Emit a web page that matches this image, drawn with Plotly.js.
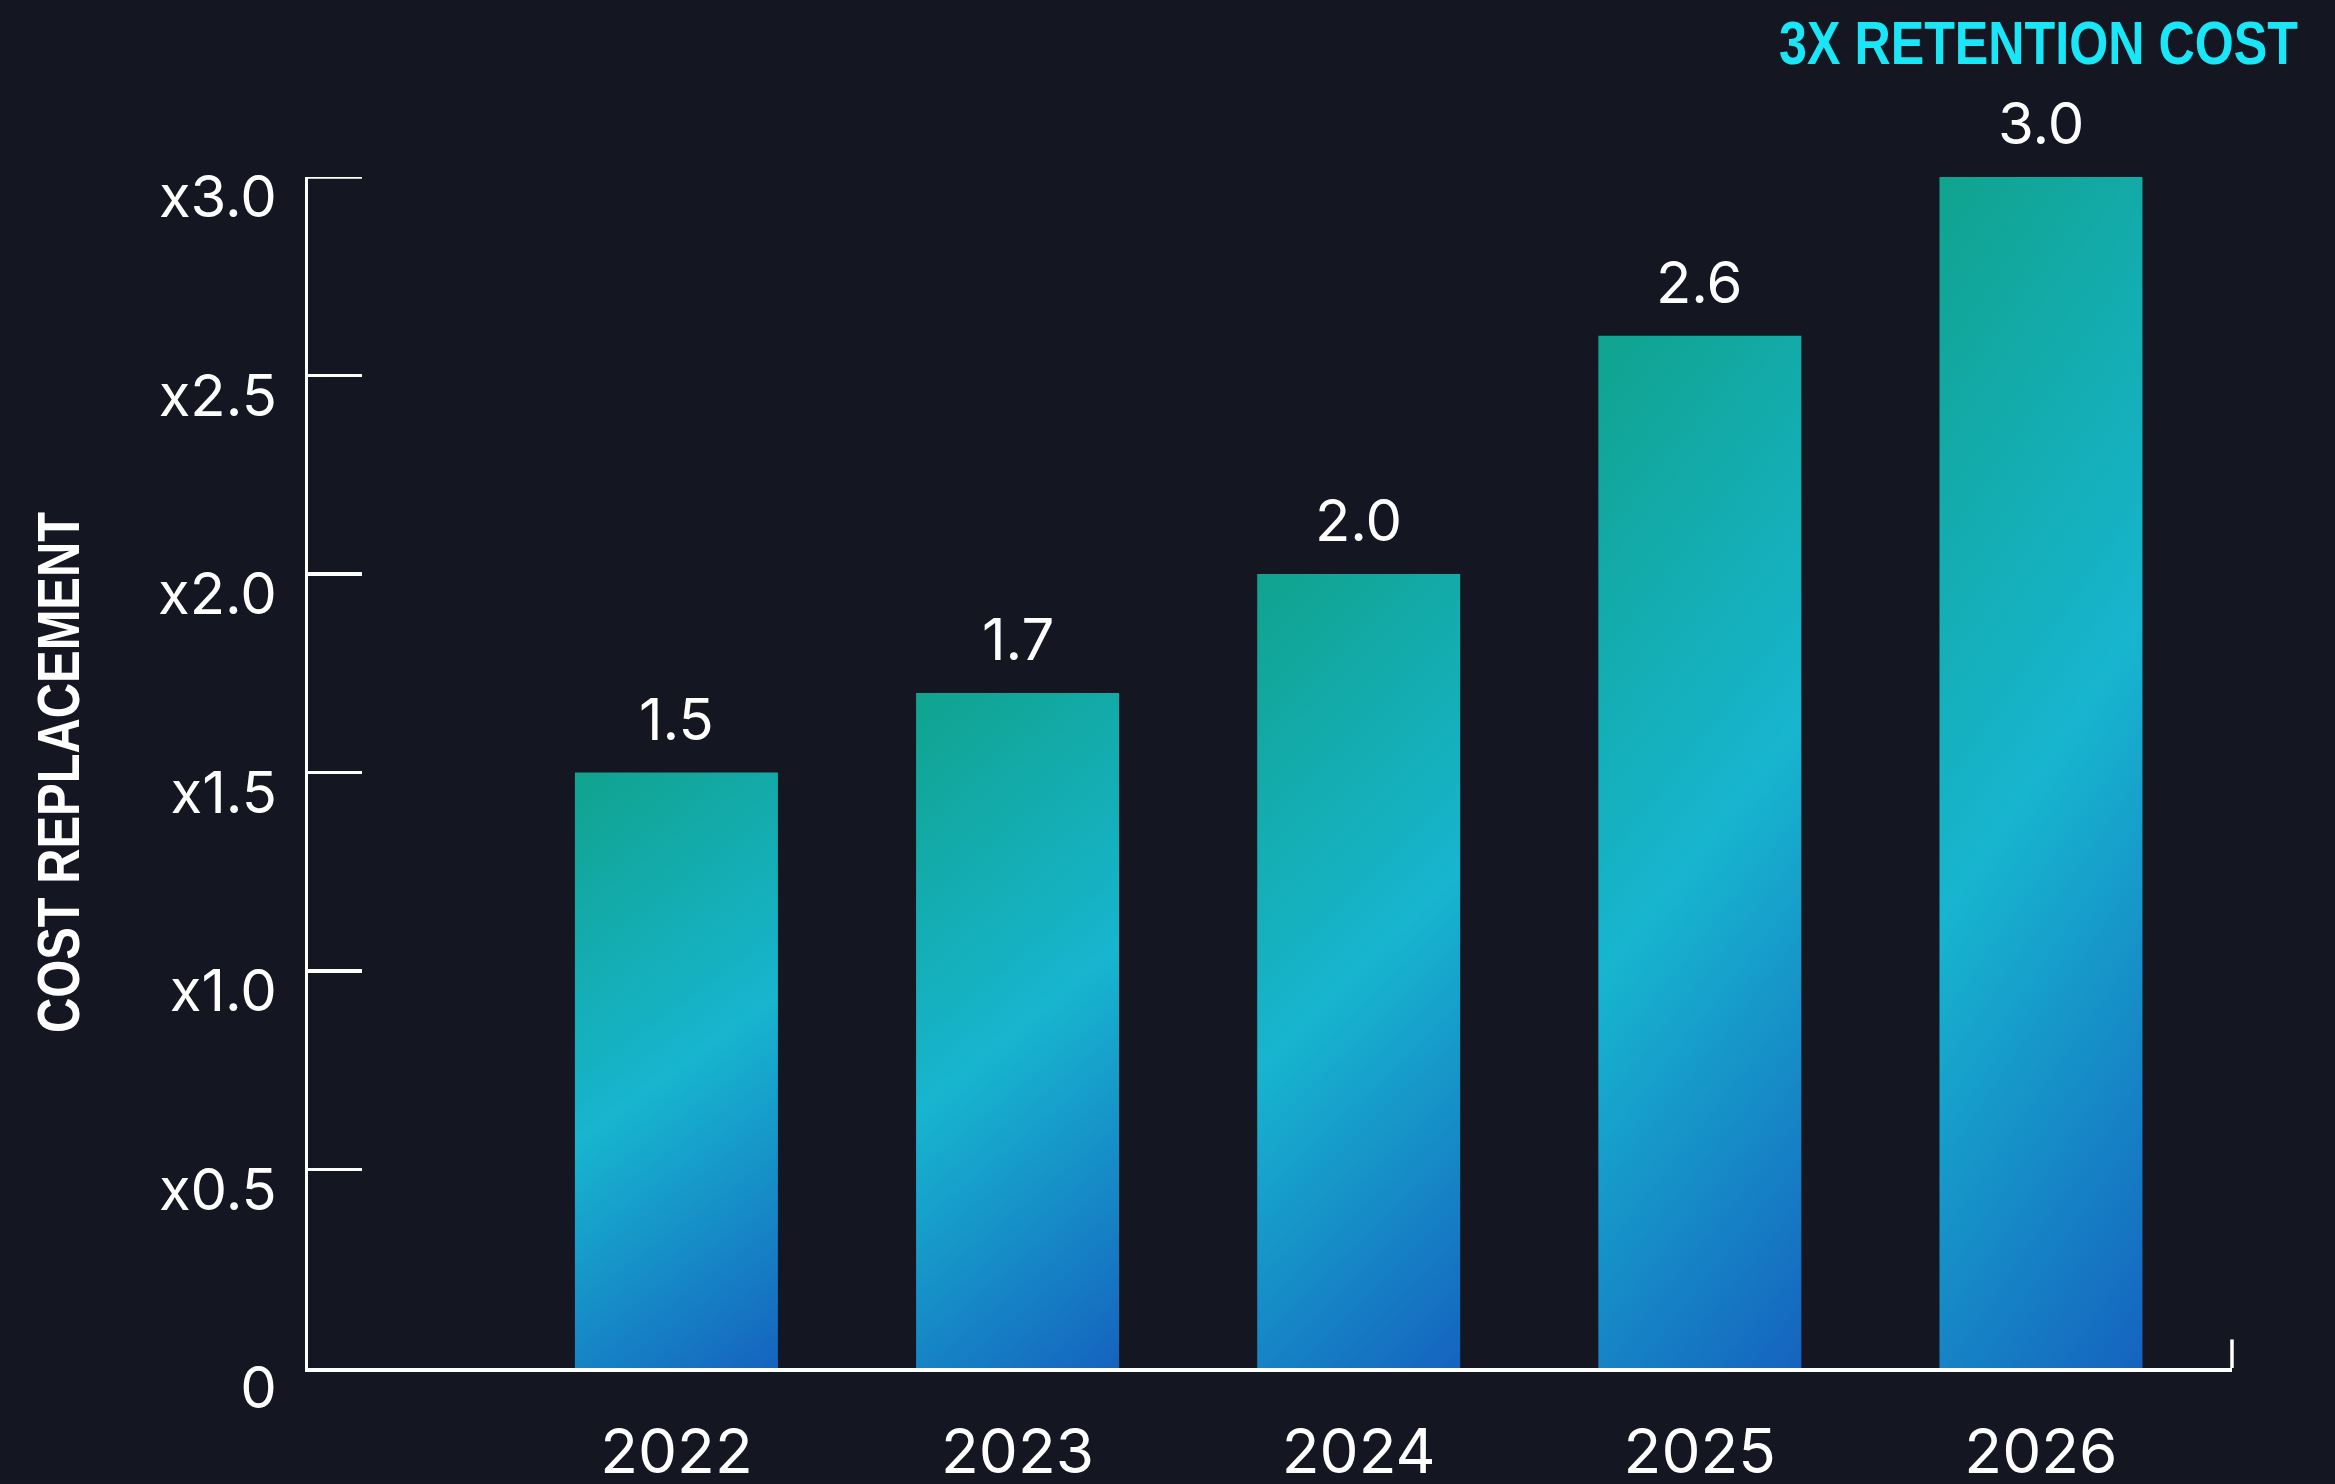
<!DOCTYPE html>
<html>
<head>
<meta charset="utf-8">
<script src="https://cdn.plot.ly/plotly-3.0.1.min.js"></script>
<style>
  html, body { margin: 0; padding: 0; background: #141621; }
  #chart { width: 2335px; height: 1484px; }
</style>
</head>
<body>
<div id="chart"></div>
<script>
// ---- data ----
const years = ['2022', '2023', '2024', '2025', '2026'];
const costMultiple = [1.5, 1.7, 2.0, 2.6, 3.0];
const yTickValues = [0, 0.5, 1.0, 1.5, 2.0, 2.5, 3.0];
const yTickLabels = ['0', 'x0.5', 'x1.0', 'x1.5', 'x2.0', 'x2.5', 'x3.0'];
const chartTitle = '3X RETENTION COST';
const yAxisTitle = 'COST REPLACEMENT';

const BG = '#141621';
const LW = 3.5;
const numFont = 'Inter, Roboto, "DejaVu Sans", sans-serif';
const condFont = '"Liberation Sans", Arial, sans-serif';

const trace = {
  type: 'bar',
  x: years,
  y: costMultiple,
  width: 0.595,
  marker: { color: '#17B5CF', line: { width: 0 } },
  hoverinfo: 'skip',
  cliponaxis: false
};

// value labels above each bar (x given as category index)
const annotations = costMultiple.map((v, i) => ({
  x: i, y: v, xref: 'x', yref: 'y',
  text: v.toFixed(1),
  showarrow: false, xanchor: 'center', yanchor: 'middle',
  yshift: 54,
  font: { family: numFont, size: 58, color: '#ffffff' }
}));

const yMax = Math.max(...yTickValues);

const layout = {
  width: 2335, height: 1484,
  paper_bgcolor: BG, plot_bgcolor: BG,
  margin: { l: 308, r: 103, t: 177, b: 116, pad: 0 },
  showlegend: false,
  title: {
    text: chartTitle,
    xref: 'container', yref: 'container',
    x: 2298 / 2335, xanchor: 'right',
    y: 1 - 43 / 1484, yanchor: 'middle',
    font: { family: condFont, size: 61, color: '#19E6F7', weight: 'bold' }
  },
  xaxis: {
    type: 'category',
    range: [-1.08, 4.56],
    showline: true, linecolor: '#ffffff', linewidth: LW,
    showgrid: false, zeroline: false,
    ticks: '',
    ticklabelstandoff: 27,
    tickfont: { family: numFont, size: 62, color: '#ffffff' },
    fixedrange: true
  },
  yaxis: {
    range: [0, yMax],
    tickmode: 'array',
    tickvals: yTickValues,
    ticktext: yTickLabels,
    showline: true, linecolor: '#ffffff', linewidth: LW,
    ticks: 'inside', ticklen: 54, tickwidth: LW, tickcolor: '#ffffff',
    showgrid: false, zeroline: false,
    ticklabelstandoff: 16,
    ticklabelshift: 20,
    tickfont: { family: numFont, size: 58, color: '#ffffff' },
    title: {
      text: yAxisTitle,
      standoff: 60,
      font: { family: condFont, size: 60, color: '#ffffff', weight: 'bold' }
    },
    automargin: false,
    fixedrange: true
  },
  shapes: [
    { // small upward tick closing the x axis on the right
      type: 'line', xref: 'paper', yref: 'paper',
      x0: 1, x1: 1, y0: 0, y1: 0.024,
      line: { color: '#ffffff', width: LW }
    },
    { // tick at the top of the y axis (end tick)
      type: 'line', xref: 'paper', yref: 'y', xsizemode: 'pixel', xanchor: 0,
      x0: 0, x1: 54, y0: yMax, y1: yMax,
      line: { color: '#ffffff', width: LW }
    }
  ],
  annotations: annotations
};

Plotly.newPlot('chart', [trace], layout, { displayModeBar: false, staticPlot: true }).then(gd => {
  const svg = gd.querySelector('.main-svg');
  const NS = 'http://www.w3.org/2000/svg';
  let defs = svg.querySelector('defs');
  if (!defs) { defs = document.createElementNS(NS, 'defs'); svg.insertBefore(defs, svg.firstChild); }
  const grad = document.createElementNS(NS, 'linearGradient');
  grad.setAttribute('id', 'barGrad');
  grad.setAttribute('gradientUnits', 'objectBoundingBox');
  grad.setAttribute('x1', '0'); grad.setAttribute('y1', '0');
  grad.setAttribute('x2', '0.294'); grad.setAttribute('y2', '1.176');
  [['0', '#10A38E'], ['0.5', '#17B5CF'], ['1', '#1563BF']].forEach(([o, c]) => {
    const s = document.createElementNS(NS, 'stop');
    s.setAttribute('offset', o); s.setAttribute('stop-color', c);
    grad.appendChild(s);
  });
  defs.appendChild(grad);
  gd.querySelectorAll('.bars .point path').forEach(p => { p.style.fill = 'url(#barGrad)'; });

  // condensed look for the two bold captions
  const fit = (sel, len) => {
    const t = gd.querySelector(sel);
    if (t) { t.setAttribute('textLength', len); t.setAttribute('lengthAdjust', 'spacingAndGlyphs'); }
  };
  fit('text.gtitle', 519);
  fit('text.ytitle', 521);
});
</script>
</body>
</html>
